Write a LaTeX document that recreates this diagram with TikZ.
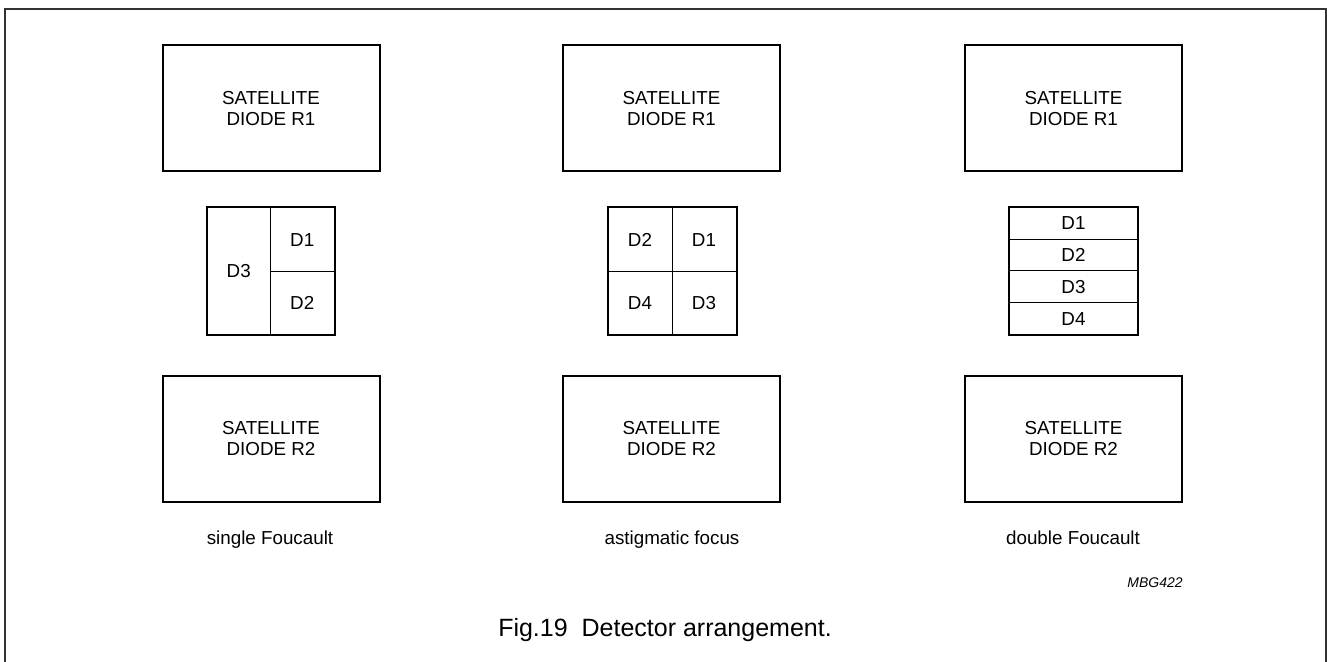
\documentclass[tikz,border=0pt]{standalone}
\usepackage{fontspec}
\setmainfont{Liberation Sans}
\usetikzlibrary{positioning}

\begin{document}
\begin{tikzpicture}[x=0.5pt, y=-0.5pt,
    satbox/.style={draw, line width=1pt, minimum width=108.5pt, minimum height=63.25pt,
        inner sep=0pt, align=center, font=\fontsize{9.4}{10.5}\selectfont},
    cell/.style={draw, line width=0.5pt, inner sep=0pt, font=\fontsize{9.4}{10.5}\selectfont},
    detframe/.style={draw, line width=1pt},
    caption/.style={inner sep=0pt, font=\fontsize{9.4}{10.5}\selectfont}]
    \useasboundingbox (0,0) rectangle (1327,662);
    \draw[line width=0.6pt, black!80] (5,662) -- (5,9) -- (1326,9) -- (1326,662);

    % Satellite diodes
    \foreach \x/\n in {271/sf, 671.5/af, 1073.5/df} {
        \node[satbox] (\n-R1) at (\x,108.25) {SATELLITE\\DIODE R1};
        \node[satbox] (\n-R2) at (\x,439) {SATELLITE\\DIODE R2};
    }

    % single Foucault
    \node[cell, minimum width=31.75pt, minimum height=63.5pt] (sf-D3) at (238.75,271.5) {D3};
    \node[cell, minimum width=31.75pt, minimum height=31.75pt] (sf-D1) at (302.25,239.75) {D1};
    \node[cell, minimum width=31.75pt, minimum height=31.75pt] (sf-D2) at (302.25,303.25) {D2};
    \draw[detframe] (sf-D3.north west) rectangle (sf-D2.south east);

    % astigmatic focus
    \node[cell, minimum width=32pt, minimum height=31.75pt] (af-D2) at (640,239.75) {D2};
    \node[cell, minimum width=32pt, minimum height=31.75pt] (af-D1) at (704,239.75) {D1};
    \node[cell, minimum width=32pt, minimum height=31.75pt] (af-D4) at (640,303.25) {D4};
    \node[cell, minimum width=32pt, minimum height=31.75pt] (af-D3) at (704,303.25) {D3};
    \draw[detframe] (af-D2.north west) rectangle (af-D3.south east);

    % double Foucault
    \foreach \k [count=\i from 0] in {1,...,4}
        \node[cell, minimum width=64pt, minimum height=15.875pt] (df-D\k) at (1073.5,223.375+31.75*\i) {D\k};
    \draw[detframe] (df-D1.north west) rectangle (df-D4.south east);

    % Labels
    \node[caption, anchor=base] (sf-label) at (270,544) {single Foucault};
    \node[caption, anchor=base] (af-label) at (672,544) {astigmatic focus};
    \node[caption, anchor=base] (df-label) at (1073,544) {double Foucault};
    \node[inner sep=0pt, anchor=base east, font=\fontsize{7}{8}\selectfont\itshape] (code) at (1183,587) {MBG422};
    \node[inner sep=0pt, anchor=base, font=\fontsize{12.5}{14}\selectfont] (title) at (665,636) {Fig.19\ \ Detector arrangement.};
\end{tikzpicture}
\end{document}
